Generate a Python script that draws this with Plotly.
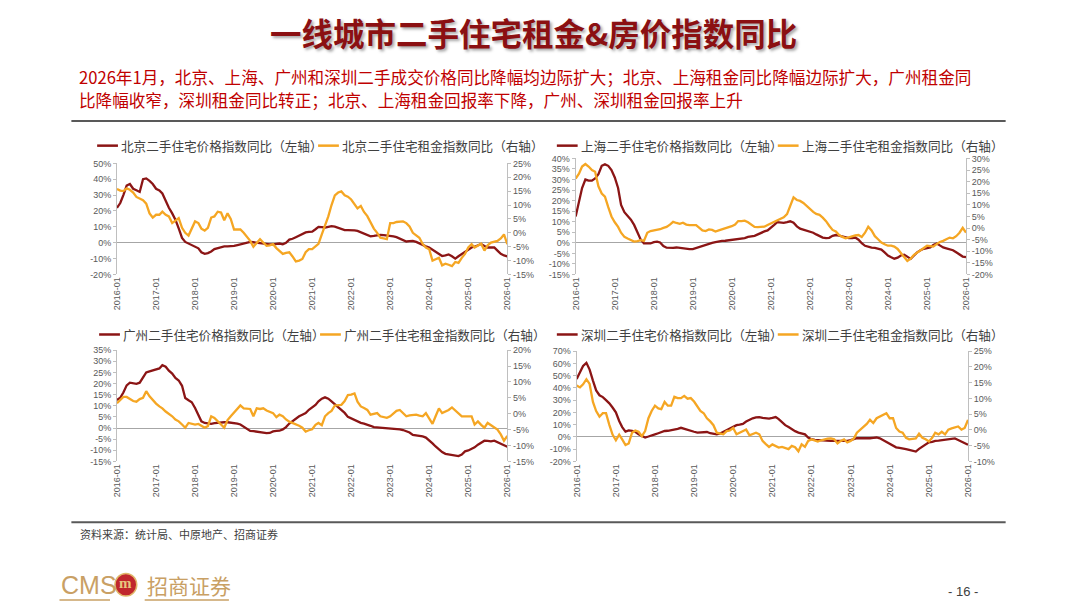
import pandas as pd
import plotly.graph_objects as go

W, H = 1080, 608

months = pd.date_range("2016-01-01", "2026-01-01", freq="MS")

bj_price = [22, 25, 30, 36, 37, 34, 33, 32, 40, 40.5, 39, 37,
            34, 33, 31, 26, 22, 18.5, 14.5, 9, 3, 0.5, -0.5, -1,
            -2, -3.5, -6, -7, -6.5, -5.5, -4, -3.3, -2.5, -2.3, -2.3, -2.2,
            -2, -1.5, -1, -0.5, 0, 0.5, 0.3, 0, -0.5, -0.8, -1, -1,
            -1, -0.5, -0.5, -1, 0, 2, 2.5, 3.5, 4.5, 5.5, 6.5, 6.8,
            7, 8.5, 10, 9.8, 9.5, 10, 10.5, 10.2, 9.5, 8.8, 8, 8,
            8, 7.8, 7.5, 6.5, 5.8, 5, 4, 4.3, 4.7, 5, 4.8, 4.6,
            4.5, 4, 3.5, 2.5, 1.5, 0.8, 1, 1.2, 0.5, -0.5, -1.5, -2.3,
            -3, -4.5, -6, -7.5, -8.4, -8, -7.4, -8.5, -10, -8.5, -7, -5.5,
            -4, -3, -2.5, -1.5, -0.8, -2, -3, -3, -3, -5, -7, -8,
            -8.6]
bj_rent = [15.8, 15.2, 15, 16, 15.5, 14.5, 12.9, 12.3, 11.7, 10.5, 7, 5.5,
           6.5, 6.5, 7.6, 6.5, 5.9, 3.5, 4.5, 5.3, 1.8, 0, -1, 1.5,
           4.1, 3.5, 1.5, 0.8, 1.8, 5.5, 5.9, 7.6, 7.3, 4.5, 7, 5,
           1.2, 1.2, 1.2, 0, -1.5, -2.9, -5, -3.5, -2.3, -3.5, -4.7, -4.5,
           -4.1, -5.5, -6.5, -7.6, -7.2, -7, -8.5, -10.3, -10, -9.4, -7, -5.9,
           -5.9, -5, -4, -0.6, 2.5, 5.9, 10, 13.5, 14.5, 14.9, 13.5, 13,
           12, 10.5, 8.8, 9.7, 7.5, 6, 4, 1.5, 0, -1.8, -2, -2.3,
           3.5, 3.5, 3.9, 4, 4.1, 3.5, 2.3, 0, -0.8, -1.8, -4, -5.3,
           -5.9, -10, -9.5, -9, -11.7, -11.1, -11.5, -12, -10.5, -10.8, -9, -7.6,
           -5.3, -4.1, -5.3, -4.5, -3.9, -6.4, -4.5, -3.5, -3.2, -2.9, -2, -0.6,
           -4.1]

sh_price = [12.5, 18.8, 26, 30, 29.5, 29.5, 30.5, 32.5, 36.5, 37.2, 36.5, 34.5,
            31, 26, 18, 14.5, 12.8, 11, 8.5, 5, 1.5, -0.3, -0.3, -0.3,
            0.3, 0.6, 0.2, -1.5, -2.3, -2.5, -2.4, -2.2, -2.4, -2.8, -2.8, -3,
            -3, -2.5, -1.8, -1.3, -0.8, -0.4, 0, 0.3, 0.7, 0.9, 1, 1.2,
            1.3, 1.4, 1.5, 1.7, 2.2, 2.8, 3, 3.3, 4, 4.8, 5.4, 5.9,
            7, 8.5, 9.8, 9.7, 9.5, 9.8, 10.2, 9.5, 7.8, 6.7, 6.3, 5.9,
            5.5, 4.8, 4, 3.3, 2.5, 2.2, 2.4, 3.3, 3.7, 3.4, 3, 2.5,
            2.2, 2.3, 2.5, 1.5, -0.2, -1.4, -2, -2.3, -2.4, -2.7, -3.2, -4.5,
            -6, -6.8, -7.5, -7, -6, -5.6, -6.5, -7.6, -6, -4.5, -3.5, -2.8,
            -2.5, -2.2, -1, -0.3, -1.2, -2.2, -2.6, -3, -3.5, -4.5, -5.5, -6.5,
            -6.8]
sh_rent = [21.3, 23.4, 26.5, 27.6, 26.5, 25, 24.3, 18, 14.9, 13.5, 9, 5,
           2.5, 0.5, -2, -3.8, -4.5, -5.3, -5.8, -5.6, -5.2, -5.5, -2, -1.3,
           -1, -0.8, -0.5, 0.1, 0.5, 1.5, 2.7, 2.2, 1.8, 2.3, 1.5, 1.3,
           1.3, 1.3, 0.2, -1, -1.3, -0.6, -0.8, -1.5, -1, -0.6, -0.2, 0.1,
           0.8, 1.5, 3, 3, 3.2, 2.5, 1.5, 0.5, 0.4, 0.4, 0.6, 1.3,
           2, 2.7, 3.5, 4, 4.6, 6, 9.5, 13.2, 12.1, 11.7, 10.8, 9.5,
           8.3, 7, 6.1, 5.7, 4.5, 3, 1, -0.8, -1.5, -3, -3.8, -4.4,
           -4, -3.4, -3.2, -3, -3.8, -2, 0.6, -1, -3.5, -4.8, -6.2, -7,
           -7.6, -7.6, -8, -9, -11, -12.5, -14.2, -13.2, -11.5, -10.5, -9.4, -8.5,
           -7.6, -7.8, -8, -6.9, -6, -5.5, -4.8, -4.1, -4.4, -3.5, -2, 0.1,
           -2]

gz_price = [12.6, 13.6, 16, 19.2, 20.4, 20.1, 19.9, 20.4, 22.9, 25, 25.5, 25.9,
            26.1, 26.8, 28.3, 27.6, 25.8, 24.5, 22.5, 21.4, 19, 13.5, 12.5, 11.6,
            9, 6, 3, 2.3, 2, 1.9, 2.2, 2.4, 2.6, 2.6, 2.6, 2.5,
            2.3, 2, 1.6, 0.5, -0.5, -1.3, -1.4, -1.6, -2, -2.2, -2.3, -2.2,
            -1.5, -1.3, -1.2, -0.6, 0.4, 2, 3.1, 4.3, 5.3, 6, 6.7, 8.2,
            9.3, 10.4, 12, 13.2, 13.8, 13.2, 12, 10.7, 9.5, 8.2, 6.8, 5,
            4.3, 3.6, 3, 2.3, 2, 1.6, 1, 0.4, 0.3, 0.1, 0, 0,
            0, -0.1, -0.3, -0.6, -0.9, -1.3, -2, -3.1, -3.3, -3.5, -3.8, -4.3,
            -5.5, -6.9, -8.3, -9.8, -10.8, -11.6, -11.9, -12.2, -12.4, -12.6, -11.9, -10.5,
            -10.1, -9.3, -8.7, -7.5, -6.5, -5.7, -5.8, -6, -5.7, -6.3, -7.2, -7.8,
            -8.4]
gz_rent = [3.3, 4.3, 5.3, 5.3, 4.6, 4, 3.8, 4.6, 5, 7.1, 5.5, 4.2,
           3.2, 2.3, 1.7, 0.7, 0, -0.8, -1.8, -2.4, -3.4, -4.4, -2.9, -3.2,
           -3.4, -3.2, -3.8, -4.4, -3.9, -0.8, -1.3, -2.5, -3.4, -4.4, -2, -0.8,
           0.4, 1.8, 2.6, 1.7, 1.6, 1.5, -0.8, 1.7, 1.5, 1.7, 1, 0.5,
           0.2, -1.1, -0.3, -0.8, -1.8, -2.5, -2.9, -3.2, -3.8, -4.4, -5.6, -5.2,
           -4.9, -3.5, -2.9, -3.6, -0.8, 0.2, 0.9, 2.6, 2.7, 2.8, 4, 5.9,
           6, 6.4, 3.8, 2.3, 1.8, 1.2, -0.3, -0.1, 0.2, -0.8, -1, -1.3,
           -0.8, 0, 0.9, 1.2, 0.2, -0.8, -0.5, -0.3, -0.3, -0.6, -0.8, 0.2,
           -1.5, -3.2, -0.8, 1.7, 0.2, 0.7, 1.2, 2, 1, 0.2, -0.8, -0.8,
           -0.8, -0.8, -3.4, -2.4, -3.5, -4.4, -2.9, -3.6, -4.4, -5, -6.5, -8.5,
           -7]

sz_price = [47.3, 52.7, 58, 60.5, 55, 46, 38, 34, 32.5, 30, 27.4, 24,
            20, 13, 8, 4.3, 5.3, 5, 4.2, 2.1, 0.5, -0.5, 0.3, 1.5,
            2.1, 3, 3.8, 4.8, 5, 5.3, 5.8, 6.5, 7.4, 6.5, 5.5, 4.8,
            4.2, 3.5, 3.5, 3.7, 4, 3, 2.5, 2.1, 2.8, 4, 5.5, 7,
            8.3, 9.6, 10, 10.6, 12.5, 14.2, 15.2, 16, 16.2, 15.6, 15.2, 14.9,
            15.5, 16.2, 14.5, 12, 9.6, 8, 6.1, 4.7, 3.5, 2.8, 2.1, -0.5,
            -1.9, -2.5, -2.7, -3, -3.2, -3.2, -3.2, -3.2, -3.3, -3.5, -3.7, -3.2,
            -2.7, -1.8, -1.1, -1.1, -1.2, -1.1, -1.1, -0.8, -0.5, -1.2, -2.7, -4.3,
            -5.9, -7.2, -8.5, -9, -9.3, -10, -10.6, -11.5, -12, -9.8, -8, -6.5,
            -4.5, -4, -3.2, -3, -2.7, -2.4, -2.1, -1.7, -1.3, -2.5, -3.7, -5.3,
            -6.4]
sz_rent = [14.1, 13.5, 14.5, 16.1, 14.6, 8.9, 6, 4.2, 5.3, 5.3, 1.6, -1.5,
           -3.3, -1.5, -3, -4.8, -4.3, -0.9, -0.2, -0.6, -2, -0.4, 3.7, 6,
           7.7, 6.8, 6.6, 8.9, 7.7, 7.7, 10.5, 10.1, 10.1, 10.8, 9.9, 10.1,
           9, 7.5, 6, 5.3, 3.7, 2.7, 1.5, -0.9, -1.2, -1.4, -0.4, -0.2,
           0.6, -1.4, -0.9, -0.5, 0.1, -1.7, -1.2, -0.9, -1.4, -3.5, -4.5, -5.4,
           -4.6, -5.2, -5.6, -5.4, -5.8, -6.1, -5.1, -5.5, -6.8, -4.6, -5.4, -3.5,
           -3, -3.5, -3.7, -3.3, -3, -2.8, -2.7, -3, -4.3, -3.5, -3, -4,
           -3.5, -2.7, -0.9, 0.1, 1, 1.9, 3.2, 2.2, 3.7, 4.2, 4.8, 5.3,
           3.7, 3.7, 0.6, -0.5, -0.9, -2.5, -3, -2.8, -2.7, -1.2, -2.5, -3,
           -3.7, -2.5, -0.9, -1.4, -0.6, -1.4, 0.1, 0.5, 0.8, 1.1, 0.1, 0.6,
           3.2]

cities = ["北京", "上海", "广州", "深圳"]
price_series = [bj_price, sh_price, gz_price, sz_price]
rent_series = [bj_rent, sh_rent, gz_rent, sz_rent]
left_ranges = [(-20, 50, 10), (-15, 40, 5), (-15, 35, 5), (-20, 70, 10)]
right_ranges = [(-15, 25, 5), (-20, 30, 5), (-15, 20, 5), (-10, 25, 5)]

for s in price_series + rent_series:
    assert len(s) == len(months)

PRICE_COLOR = "#8B1515"
RENT_COLOR = "#F5A623"
AXIS_GREY = "#BFBFBF"
TICK_FONT = dict(family="Liberation Sans, Noto Sans CJK SC", size=9, color="#595959")
CJK = "Noto Sans CJK SC"

# plot areas in pixels: (left, right, top, bottom); legend start (x, y)
boxes = [(113, 507, 161, 274), (576, 970, 156, 274),
         (113, 507, 351, 464), (577, 972, 352, 464)]
legend_pos = [(93, 143), (557, 143), (95, 335), (557, 335)]
LEGEND_STEP = 223


def px(x):
    return x / W


def py(y):
    return 1 - y / H


fig = go.Figure()
layout = {}
annotations = []
shapes = []

for i, city in enumerate(cities):
    n = i + 1
    xname = "x" if n == 1 else f"x{n}"
    yl = 2 * i + 1
    yr = 2 * i + 2
    ylname = "y" if yl == 1 else f"y{yl}"
    yrname = f"y{yr}"

    names = [f"{city}二手住宅价格指数同比（左轴）", f"{city}二手住宅租金指数同比（右轴）"]
    fig.add_trace(go.Scatter(
        x=months, y=price_series[i], mode="lines", name=names[0],
        line=dict(color=PRICE_COLOR, width=2.3),
        xaxis=xname, yaxis=ylname, showlegend=False,
    ))
    fig.add_trace(go.Scatter(
        x=months, y=rent_series[i], mode="lines", name=names[1],
        line=dict(color=RENT_COLOR, width=2.3),
        xaxis=xname, yaxis=yrname, showlegend=False,
    ))

    l, r, t, b = boxes[i]
    layout[f"xaxis{'' if n == 1 else n}"] = dict(
        domain=[px(l), px(r)], anchor=ylname,
        range=[months[0], months[-1]],
        tick0=months[0], dtick="M12", tickformat="%Y-%m", tickangle=-90,
        showgrid=False, showline=False, zeroline=False, ticks="",
        tickfont=TICK_FONT, fixedrange=True,
    )
    lo, hi, step = left_ranges[i]
    lv = list(range(lo, hi + 1, step))
    layout[f"yaxis{'' if yl == 1 else yl}"] = dict(
        domain=[py(b), py(t)], anchor=xname, range=[lo, hi],
        tickvals=lv, ticktext=[f"{v}%" for v in lv],
        showgrid=False, zeroline=True, zerolinecolor="#A6A6A6", zerolinewidth=1.3,
        showline=True, linecolor=AXIS_GREY, linewidth=1,
        ticks="outside", ticklen=3, tickcolor=AXIS_GREY,
        tickfont=TICK_FONT,
    )
    lo, hi, step = right_ranges[i]
    rv = list(range(lo, hi + 1, step))
    layout[f"yaxis{yr}"] = dict(
        overlaying=ylname, side="right", anchor=xname, range=[lo, hi],
        tickvals=rv, ticktext=[f"{v}%" for v in rv],
        showgrid=False, zeroline=False,
        showline=True, linecolor=AXIS_GREY, linewidth=1,
        ticks="outside", ticklen=3, tickcolor=AXIS_GREY,
        tickfont=TICK_FONT,
    )

    # legend drawn by hand to match the compact Excel look
    lx, ly = legend_pos[i]
    for k, (name, color) in enumerate(zip(names, [PRICE_COLOR, RENT_COLOR])):
        x0 = lx + k * LEGEND_STEP
        shapes.append(dict(type="line", xref="paper", yref="paper",
                           x0=px(x0), x1=px(x0 + 21), y0=py(ly), y1=py(ly),
                           line=dict(color=color, width=2.5)))
        annotations.append(dict(text=name, xref="paper", yref="paper",
                                x=px(x0 + 22), y=py(ly), xanchor="left", yanchor="middle",
                                showarrow=False,
                                font=dict(family=CJK, size=12.6, color="#404040")))

fig.update_layout(**layout)

annotations += [
    dict(text="<b>一线城市二手住宅租金&房价指数同比</b>", x=px(533), y=py(27),
         font=dict(family=CJK, size=31.5, color="#8B1012",
                   shadow="2px 2px 3px rgba(0,0,0,0.35)")),
    dict(text="2026年1月，北京、上海、广州和深圳二手成交价格同比降幅均边际扩大；北京、上海租金同比降幅边际扩大，广州租金同",
         x=px(73), y=py(73), xanchor="left",
         font=dict(family=CJK, size=16.6, color="#C00000")),
    dict(text="比降幅收窄，深圳租金同比转正；北京、上海租金回报率下降，广州、深圳租金回报率上升",
         x=px(73), y=py(97), xanchor="left",
         font=dict(family=CJK, size=16.6, color="#C00000")),
    dict(text="资料来源：统计局、中原地产、招商证券", x=px(74), y=py(538), xanchor="left",
         font=dict(family=CJK, size=11, color="#404040")),
    dict(text="- 16 -", x=px(967), y=py(596),
         font=dict(family="Liberation Sans", size=13, color="#404040")),
    dict(text="CMS", x=px(55), y=py(590), xanchor="left",
         font=dict(family="Liberation Sans", size=25, color="#C9A064")),
    dict(text="<b>m</b>", x=px(122), y=py(588),
         font=dict(family="Liberation Serif", size=15, color="#E8C77E")),
    dict(text="招商证券", x=px(141), y=py(590), xanchor="left",
         font=dict(family=CJK, size=21, color="#C9A064")),
]
for a in annotations:
    a.setdefault("xref", "paper")
    a.setdefault("yref", "paper")
    a.setdefault("xanchor", "center")
    a.setdefault("yanchor", "middle")
    a.setdefault("showarrow", False)

shapes += [
    dict(type="line", xref="paper", yref="paper", x0=px(67), x1=px(1010),
         y0=py(118), y1=py(118), line=dict(color="#595959", width=2)),
    dict(type="line", xref="paper", yref="paper", x0=px(67), x1=px(1010),
         y0=py(526), y1=py(526), line=dict(color="#595959", width=2)),
    dict(type="circle", xref="paper", yref="paper", x0=px(111), x1=px(133),
         y0=py(601), y1=py(578), fillcolor="#C0272D", line=dict(color="#E0B86A", width=1.5)),
    dict(type="line", xref="paper", yref="paper", x0=px(55), x1=px(106),
         y0=py(605), y1=py(605), line=dict(color="#C9A064", width=1.5)),
    dict(type="line", xref="paper", yref="paper", x0=px(141), x1=px(226),
         y0=py(605), y1=py(605), line=dict(color="#C9A064", width=1.5)),
]

fig.update_layout(
    width=W, height=H, margin=dict(l=0, r=0, t=0, b=0),
    paper_bgcolor="white", plot_bgcolor="white",
    annotations=annotations, shapes=shapes,
    hovermode="x unified",
)

fig.write_html("out.html", config={"displayModeBar": False},
               post_script="document.body.style.margin='0';document.body.style.overflow='hidden';")
